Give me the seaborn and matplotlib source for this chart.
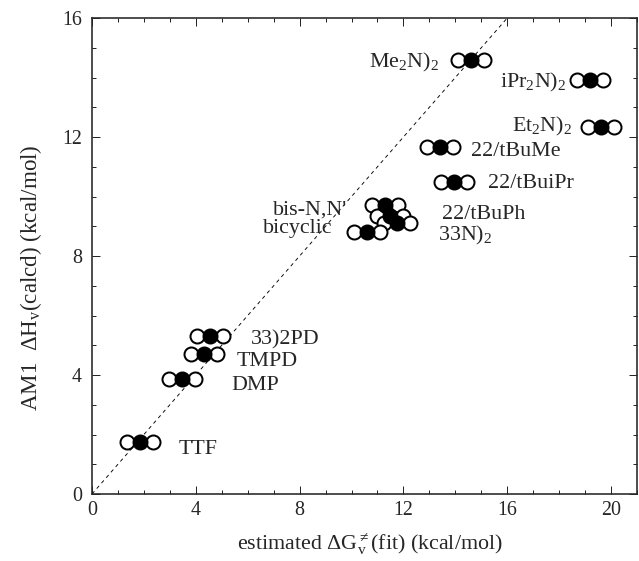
import matplotlib
matplotlib.use("Agg")
import matplotlib.pyplot as plt
import numpy as np
import pandas as pd
import seaborn as sns
from matplotlib.ticker import MultipleLocator
from matplotlib.transforms import ScaledTranslation

# ---- data ----
compounds = ["Me$_2$N)$_2$", "iPr$_2$N)$_2$", "Et$_2$N)$_2$", "22/tBuMe", "22/tBuiPr",
             "bis-N,N'", "22/tBuPh", "33N)$_2$", "bicyclic",
             "33)2PD", "TMPD", "DMP", "TTF"]
dg_fit = [14.6, 19.2, 19.6, 13.4, 13.95, 11.3, 11.5, 11.75, 10.6, 4.55, 4.3, 3.45, 1.86]
dh_calc = [14.6, 13.9, 12.35, 11.65, 10.5, 9.7, 9.35, 9.1, 8.8, 5.3, 4.7, 3.87, 1.75]
x_ticks = [0, 4, 8, 12, 16, 20]
y_ticks = [0, 4, 8, 12, 16]

# label placement (offsets in points from the filled marker; ha)
label_style = [(-32, -8, "right"), (-24, -7, "right"), (-29, -5, "right"),
               (31, -9, "left"), (34, -6, "left"),
               (-38, -9, "right"), (52, -3, "left"), (41, -17, "left"), (-35, -1, "right"),
               (41, -8, "left"), (33, -12, "left"), (50, -11, "left"), (38, -12, "left")]

sns.set_style("ticks")
plt.rcParams["font.family"] = ["Liberation Serif", "DejaVu Serif"]
plt.rcParams["mathtext.fontset"] = "custom"
plt.rcParams["mathtext.rm"] = "Liberation Serif"
plt.rcParams["mathtext.it"] = "Liberation Serif:italic"
plt.rcParams["mathtext.bf"] = "Liberation Serif:bold"

df = pd.DataFrame({"compound": compounds, "dg": dg_fit, "dh": dh_calc})

W, H = 639, 561
fig = plt.figure(figsize=(W / 72, H / 72), dpi=72)
ax = fig.add_axes([92 / W, 1 - 494 / H, (637 - 92) / W, (494 - 18) / H])

# identity reference line
ax.axline((0, 0), slope=1, color="black", lw=0.9, ls=(0, (4, 4)), zorder=1)

msize = 14 ** 2
spacing = 13
for dx, face, z in [(-spacing, "white", 2), (spacing, "white", 2), (0, "black", 3)]:
    sns.scatterplot(data=df, x="dg", y="dh", ax=ax, s=msize, marker="o",
                    facecolor=face, edgecolor="black", linewidth=2.0, zorder=z,
                    legend=False)
    coll = ax.collections[-1]
    coll.set_offset_transform(ax.transData + ScaledTranslation(dx / 72, 0, fig.dpi_scale_trans))

for name, xv, yv, (ox, oy, ha) in zip(compounds, dg_fit, dh_calc, label_style):
    ax.annotate(name, xy=(xv, yv), xytext=(ox, oy), textcoords="offset points",
                ha=ha, va="baseline", fontsize=22, zorder=5)

ax.set_xlim(0, 21)
ax.set_ylim(0, 16)
ax.set_xticks(x_ticks)
ax.set_yticks(y_ticks)
ax.xaxis.set_minor_locator(MultipleLocator(1))
ax.yaxis.set_minor_locator(MultipleLocator(1))
ax.tick_params(which="both", direction="in", top=True, right=True, width=1, labelsize=20)
ax.tick_params(which="major", length=8)
ax.tick_params(which="minor", length=4)
ax.tick_params(axis="x", pad=7)
ax.tick_params(axis="y", pad=10)
for sp in ax.spines.values():
    sp.set_linewidth(1.6)

ax.set_xlabel(r"estimated $\Delta$G$^{\neq}_{\mathregular{v}}$(fit) (kcal/mol)", fontsize=22)
ax.set_ylabel(r"AM1  $\Delta$H$_{\mathregular{v}}$(calcd) (kcal/mol)", fontsize=23)
ax.xaxis.set_label_coords(0.51, -0.078)
ax.yaxis.set_label_coords(-0.088, 0.454)

fig.savefig("out.png", dpi=72)
